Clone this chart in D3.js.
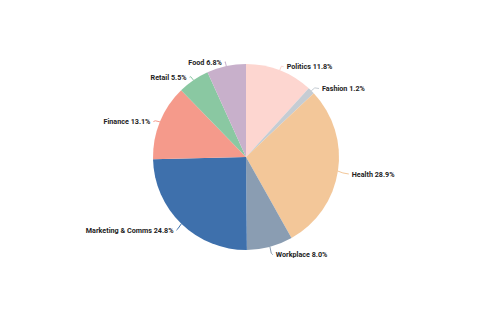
<!DOCTYPE html>
<html>
<head>
<meta charset="utf-8">
<script src="https://cdn.jsdelivr.net/npm/d3@7"></script>
<style>
  body { margin: 0; background: #fff; }
  svg text { font-family: Roboto, "Liberation Sans", Arial, sans-serif; font-weight: bold; font-size: 7.2px; fill: #222; }
</style>
</head>
<body>
<div id="chart"></div>
<script>
var categories = ['Politics', 'Fashion', 'Health', 'Workplace', 'Marketing & Comms', 'Finance', 'Retail', 'Food'];
var values = [11.8, 1.2, 28.9, 8.0, 24.8, 13.1, 5.5, 6.8];
var colors = ['#fdd6d0', '#c5ccd3', '#f3c799', '#8a9db2', '#3e70ac', '#f59a8b', '#8ac8a2', '#c8b0cb'];

var width = 500, height = 330;
var cx = 246, cy = 157, radius = 93;

var rows = categories.map(function (c, i) {
  return { label: c, value: values[i], color: colors[i] };
});

var svg = d3.select('#chart')
  .append('svg')
  .attr('width', width)
  .attr('height', height);

var g = svg.append('g')
  .attr('transform', 'translate(' + cx + ',' + cy + ')');

var pie = d3.pie()
  .sort(null)
  .value(function (d) { return d.value; });

var arc = d3.arc()
  .innerRadius(0)
  .outerRadius(radius);

var arcs = pie(rows);

g.selectAll('path.slice')
  .data(arcs)
  .enter()
  .append('path')
  .attr('class', 'slice')
  .attr('d', arc)
  .attr('fill', function (d) { return d.data.color; });

function mid(d) { return (d.startAngle + d.endAngle) / 2; }
function isRight(d) { return Math.sin(mid(d)) >= 0; }

// label anchor: right side sits a little further out than the left
function labelPos(d) {
  var a = mid(d);
  var rx = isRight(d) ? radius + 11 : radius + 7;
  return [Math.sin(a) * rx, 2 - Math.cos(a) * (radius + 6)];
}

g.selectAll('polyline.leader')
  .data(arcs)
  .enter()
  .append('polyline')
  .attr('class', 'leader')
  .attr('fill', 'none')
  .attr('stroke', function (d) { return d.data.color; })
  .attr('stroke-width', 1)
  .attr('points', function (d) {
    var a = mid(d);
    var p0 = [Math.sin(a) * radius, -Math.cos(a) * radius];
    var p1 = [Math.sin(a) * (radius + 5), -Math.cos(a) * (radius + 5)];
    var p2 = labelPos(d);
    p1[1] = p2[1] + (p1[1] - p2[1]) * 0.5;
    return [p0, p1, p2].map(function (p) { return p.join(','); }).join(' ');
  });

g.selectAll('text.lbl')
  .data(arcs)
  .enter()
  .append('text')
  .attr('class', 'lbl')
  .attr('x', function (d) {
    var p = labelPos(d);
    return isRight(d) ? p[0] + 3 : p[0] - 3;
  })
  .attr('y', function (d) { return labelPos(d)[1]; })
  .attr('dy', '0.35em')
  .attr('text-anchor', function (d) { return isRight(d) ? 'start' : 'end'; })
  .text(function (d) { return d.data.label + ' ' + d.data.value.toFixed(1) + '%'; });
</script>
</body>
</html>
